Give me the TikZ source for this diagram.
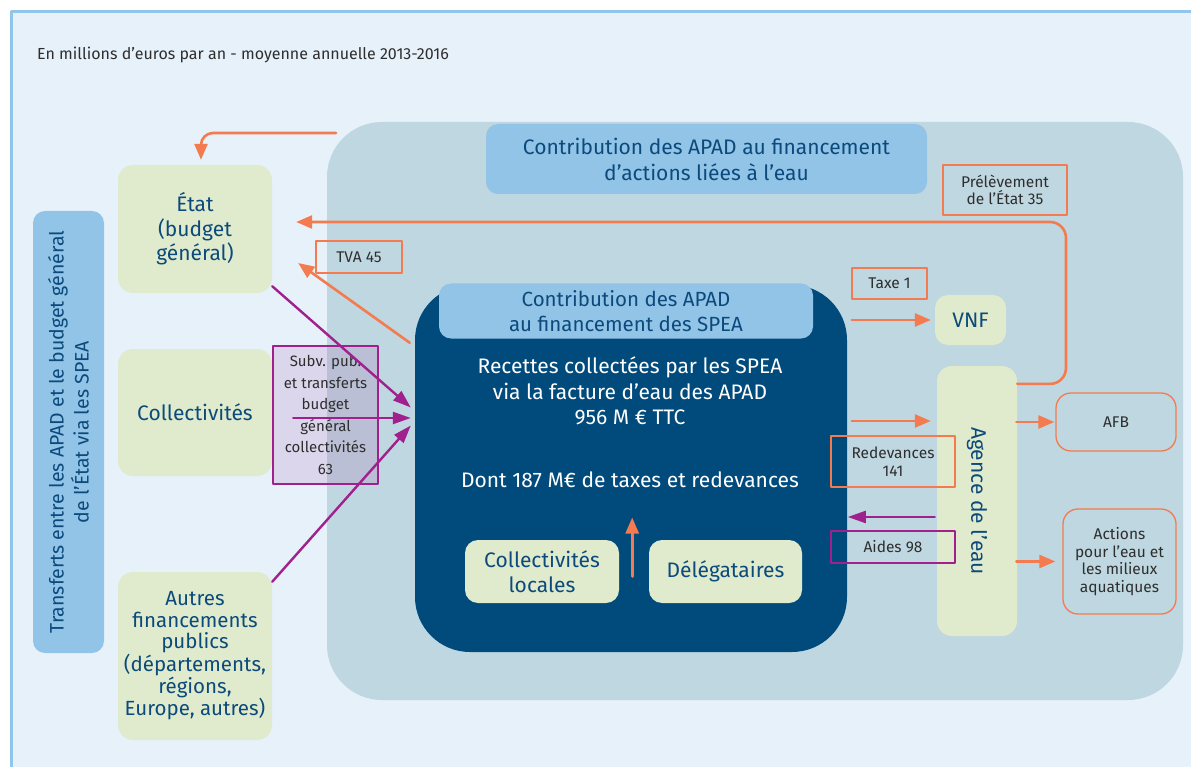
\documentclass[tikz,border=0pt]{standalone}
\usepackage{fontspec}
\setmainfont{Fira Sans}
\usetikzlibrary{arrows.meta}
\definecolor{pagebg}{HTML}{E6F1FA}
\definecolor{frameblue}{HTML}{92C5EA}
\definecolor{zonegrey}{HTML}{BFD7E0}
\definecolor{headblue}{HTML}{92C4E8}
\definecolor{navy}{HTML}{004A7C}
\definecolor{boxgreen}{HTML}{DFEBCC}
\definecolor{textnavy}{HTML}{0C4A7C}
\definecolor{flowor}{HTML}{F47B4F}
\definecolor{flowpu}{HTML}{A0218E}
\definecolor{labeltext}{HTML}{2E2E2E}
\newcommand{\boxfont}{\fontsize{21}{24.5}\selectfont}
\newcommand{\labfont}{\fontsize{15.5}{17.5}\selectfont}
\begin{document}
\begin{tikzpicture}[x=1pt,y=-1pt,line cap=round,line join=round,
  greenbox/.style={fill=boxgreen,rounded corners=15pt,text=textnavy,align=center,font=\boxfont,inner sep=0pt},
  headbox/.style={fill=headblue,rounded corners=12pt,text=textnavy,align=center,font=\boxfont,inner sep=0pt},
  labelbox/.style={draw=flowor,line width=1.3pt,text=labeltext,align=center,font=\labfont,inner sep=0pt},
  outbox/.style={labelbox,rounded corners=15pt},
  orflow/.style={draw=flowor,line width=2.6pt,-{Triangle[length=16pt,width=13pt]}},
  puflow/.style={draw=flowpu,line width=2.4pt,-{Triangle[length=18pt,width=12pt]}}]
  \useasboundingbox (0,0) rectangle (1191,767);
  \fill[pagebg] (11,12) rectangle (1191,767);
  \draw[draw=frameblue,line width=3pt,line cap=butt] (11,767) -- (11,12) -- (1191,12);
  \node[anchor=west,text=labeltext,font=\fontsize{16}{18}\selectfont,inner sep=0pt] (unit) at (37,55) {En millions d’euros par an - moyenne annuelle 2013-2016};

  \fill[zonegrey,rounded corners=55pt] (327,122) rectangle (1183,700);
  \node[headbox,minimum width=441pt,minimum height=70pt,font=\fontsize{21}{26}\selectfont] (apad) at (706.5,159) {Contribution des APAD au financement\\d’actions liées à l’eau};

  \node[headbox,rotate=90,minimum width=442pt,minimum height=71pt,font=\fontsize{19.5}{25}\selectfont] (transf) at (68.5,432) {Transferts entre les APAD et le budget général\\de l’État via les SPEA};
  \node[greenbox,minimum width=154pt,minimum height=128pt] (etat) at (195,229) {État\\(budget\\général)};
  \node[greenbox,minimum width=154pt,minimum height=127pt] (coll) at (195,412.5) {Collectivités};
  \node[greenbox,minimum width=154pt,minimum height=168pt,font=\fontsize{20.5}{21.6}\selectfont] (autres) at (195,656) {Autres\\financements\\publics\\(départements,\\régions,\\Europe, autres)};

  \node[fill=navy,rounded corners=55pt,minimum width=432pt,minimum height=367pt,inner sep=0pt] (spea) at (631,468.5) {};
  \node[headbox,minimum width=374pt,minimum height=55pt,font=\fontsize{20.5}{25}\selectfont] (speahead) at (626,311) {Contribution des APAD\\au financement des SPEA};
  \node[text=white,align=center,font=\fontsize{21}{25.5}\selectfont,inner sep=0pt] (recettes) at (630,391) {Recettes collectées par les SPEA\\via la facture d’eau des APAD\\956 M € TTC};
  \node[text=white,font=\boxfont,inner sep=0pt] (dont) at (630,480) {Dont 187 M€ de taxes et redevances};
  \node[greenbox,rounded corners=13pt,minimum width=154pt,minimum height=63pt] (cloc) at (542,571.5) {Collectivités\\locales};
  \node[greenbox,rounded corners=13pt,minimum width=153pt,minimum height=63pt] (deleg) at (725.5,571.5) {Délégataires};

  \node[greenbox,rounded corners=13pt,minimum width=71pt,minimum height=50pt] (vnf) at (970.5,320) {VNF};
  \node[greenbox,rotate=-90,minimum width=270pt,minimum height=80pt] (agence) at (977,501) {Agence de l’eau};
  \node[outbox,minimum width=120pt,minimum height=58pt] (afb) at (1116,422) {AFB};
  \node[outbox,minimum width=113pt,minimum height=105pt] (actions) at (1119.5,561.5) {Actions\\pour l’eau et\\les milieux\\aquatiques};

  \node[labelbox,draw=flowpu,fill=flowpu,fill opacity=0.13,text opacity=1,minimum width=105pt,minimum height=138pt,font=\fontsize{15}{21.5}\selectfont] (subv) at (325.5,415) {Subv. pub.\\et transferts\\budget\\général\\collectivités\\63};
  \node[labelbox,minimum width=124pt,minimum height=50pt] (prel) at (1005,190) {Prélèvement\\de l’État 35};
  \node[labelbox,minimum width=75pt,minimum height=31pt] (taxe) at (889.5,283.5) {Taxe 1};
  \node[labelbox,minimum width=86pt,minimum height=32pt] (tva) at (359,257) {TVA 45};
  \node[labelbox,minimum width=124pt,minimum height=51pt] (redev) at (893,461.5) {Redevances\\141};
  \node[labelbox,draw=flowpu,minimum width=124pt,minimum height=32pt] (aides) at (893,547) {Aides 98};

  \coordinate (zonetop) at (336,133);
  \draw[orflow,rounded corners=12pt] (zonetop) -- (201,133) -- ([shift={(6pt,5pt)}]etat.north);
  \draw[orflow,rounded corners=16pt] ([yshift=-18pt]agence.north west) -- (1066,384) -- (1066,222) -- ([shift={(24pt,7pt)}]etat.east);
  \draw[orflow] ([shift={(-5pt,-58pt)}]spea.north west) -- ([shift={(26pt,-34pt)}]etat.east);
  \draw[orflow] ([xshift=-83pt]vnf.west) -- ([xshift=-4pt]vnf.west);
  \draw[orflow] ([shift={(-85pt,80pt)}]agence.south) -- ([shift={(-6pt,80pt)}]agence.south);
  \draw[orflow] ([xshift=-39pt]afb.west) -- ([xshift=-1pt]afb.west);
  \draw[orflow] ([xshift=-46pt]actions.west) -- ([xshift=-7pt]actions.west);
  \draw[orflow] ([shift={(13pt,-5pt)}]cloc.east) -- ([shift={(13pt,54pt)}]cloc.east);
  \draw[puflow] ([shift={(-2pt,-16pt)}]agence.south) -- ([shift={(-89pt,-16pt)}]agence.south);
  \draw[puflow] ([yshift=7pt]etat.south east) -- ([shift={(-4pt,61pt)}]spea.west);
  \draw[puflow] ([shift={(21pt,-5.5pt)}]coll.east) -- ([shift={(-4pt,50.5pt)}]spea.west);
  \draw[puflow] ([yshift=-10pt]autres.north east) -- ([shift={(-4pt,43pt)}]spea.west);
\end{tikzpicture}
\end{document}
